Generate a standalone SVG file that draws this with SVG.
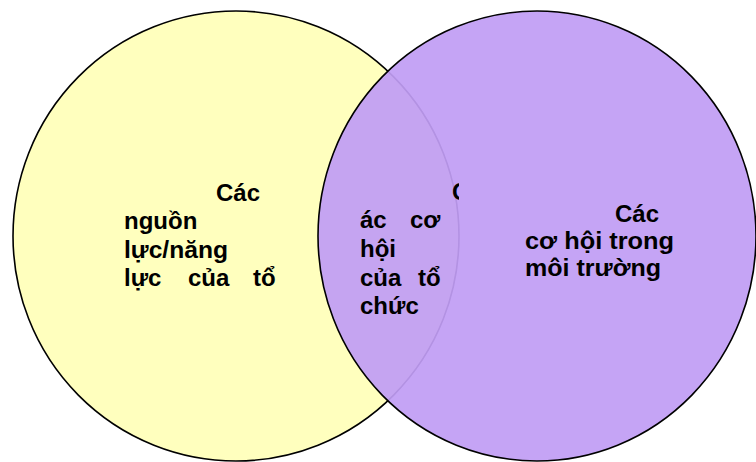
<svg xmlns="http://www.w3.org/2000/svg" width="756" height="462" viewBox="0 0 756 462">
  <style>
    .lbl { font-family: "Liberation Sans", Arial, sans-serif; font-weight: bold; font-size: 24px; fill: #000; }
    .ring { stroke: #000; stroke-width: 1.6; }
  </style>
  <defs>
    <clipPath id="clipC">
      <rect x="340" y="170" width="119" height="40"/>
    </clipPath>
  </defs>
  <rect width="756" height="462" fill="#ffffff"/>
  <g id="resources">
    <ellipse class="ring" cx="236" cy="236" rx="223" ry="225" fill="#FFFFBE"/>
  </g>
  <g id="opportunities">
    <ellipse class="ring" cx="537" cy="236" rx="219" ry="225" fill="#C19DF4" fill-opacity="0.93"/>
  </g>
  <g id="resources-label">
    <text class="lbl" x="216" y="201">Các</text>
    <text class="lbl" x="124" y="229">nguồn</text>
    <text class="lbl" x="124" y="258" textLength="104" lengthAdjust="spacingAndGlyphs">lực/năng</text>
    <text class="lbl" y="286"><tspan x="124">lực</tspan><tspan x="188">của</tspan><tspan x="253">tổ</tspan></text>
  </g>
  <g id="overlap-label">
    <text class="lbl" x="452" y="200" clip-path="url(#clipC)">C</text>
    <text class="lbl" y="228"><tspan x="360">ác</tspan><tspan x="410">cơ</tspan></text>
    <text class="lbl" x="360" y="257">hội</text>
    <text class="lbl" y="286"><tspan x="360">của</tspan><tspan x="418">tổ</tspan></text>
    <text class="lbl" x="360" y="314">chức</text>
  </g>
  <g id="opportunities-label">
    <text class="lbl" x="615" y="222">Các</text>
    <text class="lbl" x="525" y="249" textLength="149" lengthAdjust="spacingAndGlyphs">cơ hội trong</text>
    <text class="lbl" x="525" y="276" textLength="136" lengthAdjust="spacingAndGlyphs">môi trường</text>
  </g>
</svg>
